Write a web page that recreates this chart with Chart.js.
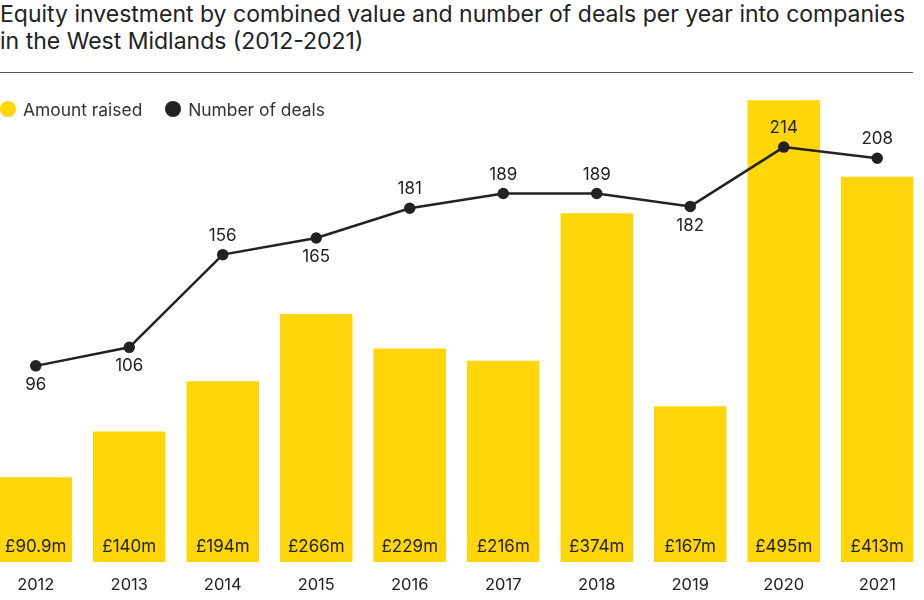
<!DOCTYPE html>
<html>
<head>
<meta charset="utf-8">
<script src="https://cdn.jsdelivr.net/npm/chart.js@4"></script>
<style>
  body { margin: 0; background: #fff; font-family: Inter, "Noto Sans", sans-serif; color: #222; }
  #page { position: relative; width: 924px; height: 600px; overflow: hidden; }
  #titulo { position: absolute; left: 0; top: 1px; width: 940px; font-size: 23px; line-height: 27px; white-space: nowrap; }
  #regua { position: absolute; left: 0; top: 72px; width: 913px; height: 0; border-top: 1px solid #555; }
  #legenda { position: absolute; left: 0; top: 97px; font-size: 17.4px; color: #333; z-index: 2; }
  #legenda span { display: inline-block; vertical-align: middle; }
  .bola { width: 16px; height: 16px; border-radius: 50%; margin-right: 7px; }
  #grafico { position: absolute; left: -18px; top: 80px; width: 949px; height: 534px; }
</style>
</head>
<body>
<div id="page">
  <div id="titulo">Equity investment by combined value and number of deals per year into companies<br>in the West Midlands (2012-2021)</div>
  <div id="regua"></div>
  <div id="legenda">
    <span class="bola" style="background:#FFD60A"></span><span>Amount raised</span>
    <span class="bola" style="background:#222;margin-left:18px"></span><span>Number of deals</span>
  </div>
  <div id="grafico"><canvas id="myChart"></canvas></div>
</div>
<script>
//entrada

const anos = ['2012', '2013', '2014', '2015', '2016', '2017', '2018', '2019', '2020', '2021']
const valores = [90.9, 140, 194, 266, 229, 216, 374, 167, 495, 413]
const valores_texto = ['£90.9m', '£140m', '£194m', '£266m', '£229m', '£216m', '£374m', '£167m', '£495m', '£413m']
const negocios = [96, 106, 156, 165, 181, 189, 189, 182, 214, 208]

// acima (-1) ou abaixo (1) do ponto
const lado_rotulo = [1, 1, -1, 1, -1, -1, -1, 1, -1, -1]

const ctx = document.getElementById('myChart')

/*========================================================*/

//rotulos
const rotulos = {
    id: 'rotulos',
    afterDatasetsDraw(chart) {
        let c = chart.ctx
        let area = chart.chartArea
        c.save()
        c.fillStyle = '#222'
        c.textAlign = 'center'
        c.textBaseline = 'middle'
        c.font = '17px Inter, "Noto Sans", sans-serif'

        // barras (dataset 1)
        chart.getDatasetMeta(1).data.forEach((barra, i) => {
            c.fillText(valores_texto[i], barra.x, area.bottom - 15)
        })

        // linha (dataset 0)
        chart.getDatasetMeta(0).data.forEach((ponto, i) => {
            c.fillText(String(negocios[i]), ponto.x, ponto.y + lado_rotulo[i] * 19)
        })
        c.restore()
    }
}

/*========================================================*/

//saida

var grafico = new Chart(ctx, {
    data: {
        labels: anos,
        datasets: [{
            type: 'line',
            label: 'Number of deals',
            data: negocios,
            yAxisID: 'y2',
            borderColor: '#222',
            backgroundColor: '#222',
            borderWidth: 2.5,
            pointRadius: 4.5,
            pointHoverRadius: 4.5,
            tension: 0,
            order: 0
        }, {
            type: 'bar',
            label: 'Amount raised',
            data: valores,
            yAxisID: 'y',
            backgroundColor: '#FFD60A',
            barPercentage: 0.775,
            categoryPercentage: 1,
            order: 1
        }]
    },
    options: {
        responsive: true,
        maintainAspectRatio: false,
        animation: false,
        layout: { padding: { top: 10, bottom: 6, left: 0, right: 0 } },
        plugins: {
            legend: { display: false },
            tooltip: { enabled: false }
        },
        scales: {
            x: {
                grid: { display: false, drawTicks: false },
                border: { display: false },
                ticks: {
                    color: '#222',
                    padding: 13,
                    font: { family: 'Inter, "Noto Sans", sans-serif', size: 16.5 }
                }
            },
            y: {
                display: false,
                min: 0,
                max: 506
            },
            y2: {
                display: false,
                min: -9.9,
                max: 244.8
            }
        }
    },
    plugins: [rotulos]
})
</script>
</body>
</html>
